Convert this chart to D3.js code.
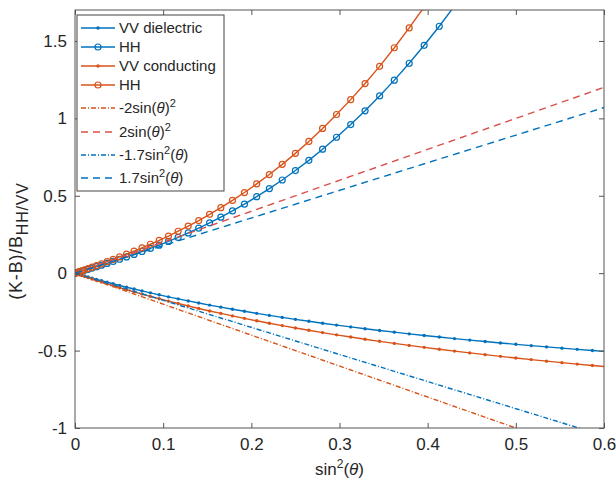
<!DOCTYPE html>
<html><head><meta charset="utf-8">
<script src="https://cdn.jsdelivr.net/npm/d3@7"></script>
<style>body{margin:0;background:#fff}svg{display:block}text{font-family:"Liberation Sans",Arial,sans-serif;fill:#262626}</style>
</head><body><svg id="c" width="616" height="482"></svg>
<script>
// sin^2(theta) at 1-degree steps of theta (0..51 deg)
const xs = [0,0.000305,0.00122,0.00274,0.00487,0.00760,0.01093,0.01485,0.01937,0.02447,0.03015,0.03641,0.04323,0.05060,0.05853,0.06699,0.07598,0.08548,0.09549,0.10599,0.11698,0.12843,0.14033,0.15267,0.16543,0.17861,0.19217,0.20611,0.22040,0.23504,0.25,0.26526,0.28081,0.29663,0.31270,0.32899,0.34549,0.36218,0.37904,0.39604,0.41318,0.43041,0.44774,0.46512,0.48255,0.5,0.51745,0.53488,0.55226,0.56959,0.58682,0.60396];
const vvDielectric = [0,-0.0005,-0.0021,-0.0046,-0.0082,-0.0128,-0.0182,-0.0246,-0.0319,-0.0399,-0.0488,-0.0583,-0.0685,-0.0792,-0.0905,-0.1022,-0.1144,-0.1269,-0.1397,-0.1527,-0.1659,-0.1792,-0.1926,-0.2061,-0.2195,-0.2329,-0.2462,-0.2595,-0.2726,-0.2855,-0.2982,-0.3108,-0.3231,-0.3352,-0.3471,-0.3587,-0.3700,-0.3810,-0.3918,-0.4024,-0.4126,-0.4225,-0.4322,-0.4416,-0.4507,-0.4595,-0.4680,-0.4762,-0.4842,-0.4919,-0.4994,-0.5066];
const hhDielectric = [0,0.0005,0.0021,0.0047,0.0083,0.0129,0.0186,0.0252,0.033,0.042,0.052,0.063,0.076,0.090,0.105,0.121,0.140,0.160,0.181,0.205,0.231,0.260,0.291,0.325,0.362,0.402,0.446,0.494,0.546,0.602,0.663,0.729,0.801,0.878,0.960,1.049,1.145,1.247,1.356,1.472,1.595,1.726,1.865];
const vvConducting = [0,-0.0006,-0.0024,-0.0055,-0.0097,-0.0150,-0.0215,-0.0290,-0.0375,-0.0470,-0.0574,-0.0687,-0.0807,-0.0934,-0.1068,-0.1206,-0.1350,-0.1498,-0.1650,-0.1804,-0.1961,-0.2119,-0.2279,-0.2439,-0.2599,-0.2759,-0.2918,-0.3076,-0.3232,-0.3387,-0.3540,-0.3690,-0.3838,-0.3983,-0.4125,-0.4265,-0.4401,-0.4534,-0.4664,-0.4790,-0.4914,-0.5034,-0.5150,-0.5263,-0.5373,-0.5479,-0.5583,-0.5683,-0.5779,-0.5873,-0.5963,-0.6050];
const hhConducting = [0,0.0006,0.0024,0.0055,0.0097,0.0152,0.0219,0.0297,0.039,0.049,0.061,0.075,0.089,0.105,0.123,0.142,0.164,0.187,0.212,0.240,0.271,0.304,0.340,0.380,0.423,0.470,0.521,0.577,0.637,0.703,0.774,0.851,0.935,1.025,1.121,1.225,1.336,1.456,1.584,1.720,1.864];
// straight reference lines, given by their end points
const refX = [0, 0.6];
const refNeg2 = [0, -1.2];
const refPos2 = [0, 1.2];
const refNeg17 = [0, -1.05];
const refPos17 = [0, 1.07];
const xTicks = [0,0.1,0.2,0.3,0.4,0.5,0.6];
const yTicks = [-1,-0.5,0,0.5,1,1.5];

const blue = "#0072bd", orange = "#d95319", red = "#d9504a";
const svg = d3.select("#c");
const L = 75, R = 604, T = 10, B = 428;
const x = d3.scaleLinear().domain([0,0.6]).range([L,R]);
const y = d3.scaleLinear().domain([-1,1.7]).range([B,T]);

svg.append("clipPath").attr("id","clip").append("rect").attr("x",L).attr("y",T).attr("width",R-L).attr("height",B-T);
const g = svg.append("g").attr("clip-path","url(#clip)");

const series = [
  {name:"VV dielectric", vals:vvDielectric, color:blue, marker:"dot"},
  {name:"HH", vals:hhDielectric, color:blue, marker:"circle"},
  {name:"VV conducting", vals:vvConducting, color:orange, marker:"dot"},
  {name:"HH", vals:hhConducting, color:orange, marker:"circle"}
];
const line = d3.line().x(d=>x(d[0])).y(d=>y(d[1]));
series.forEach(s=>{
  const pts = s.vals.map((v,i)=>[xs[i],v]);
  g.append("path").attr("d",line(pts)).attr("fill","none").attr("stroke",s.color).attr("stroke-width",1.4);
  if(s.marker==="dot"){
    g.selectAll(null).data(pts).enter().append("circle").attr("cx",d=>x(d[0])).attr("cy",d=>y(d[1])).attr("r",1.7).attr("fill",s.color);
  } else {
    g.selectAll(null).data(pts).enter().append("circle").attr("cx",d=>x(d[0])).attr("cy",d=>y(d[1])).attr("r",3).attr("fill","none").attr("stroke",s.color).attr("stroke-width",1.2);
  }
});
const refs = [
  {vals:refNeg2, color:orange, dash:"5,2,1,2"},
  {vals:refPos2, color:red, dash:"7,5"},
  {vals:refNeg17, color:blue, dash:"5,2,1,2"},
  {vals:refPos17, color:blue, dash:"7,5"}
];
refs.forEach(r=>{
  g.append("path").attr("d",line(r.vals.map((v,i)=>[refX[i],v]))).attr("fill","none")
   .attr("stroke",r.color).attr("stroke-width",1.4).attr("stroke-dasharray",r.dash);
});

// axes box and ticks
const axc = "#555";
svg.append("rect").attr("x",L).attr("y",T).attr("width",R-L).attr("height",B-T).attr("fill","none").attr("stroke",axc).attr("stroke-width",1);
const fmt = d => String(d);
const xa = d3.axisBottom(x).tickValues(xTicks).tickSize(-5).tickPadding(10).tickFormat(fmt);
const xg = svg.append("g").attr("transform",`translate(0,${B})`).call(xa);
const xt = svg.append("g").attr("transform",`translate(0,${T})`).call(d3.axisTop(x).tickValues(xTicks).tickSize(-5).tickFormat(""));
const ya = d3.axisLeft(y).tickValues(yTicks).tickSize(-5).tickPadding(8).tickFormat(fmt);
const yg = svg.append("g").attr("transform",`translate(${L},0)`).call(ya);
const yr = svg.append("g").attr("transform",`translate(${R},0)`).call(d3.axisRight(y).tickValues(yTicks).tickSize(-5).tickFormat(""));
[xg,xt,yg,yr].forEach(a=>{a.select(".domain").remove();a.selectAll("line").attr("stroke",axc);a.selectAll("text").style("font-size","17px").attr("fill","#262626").style("font-family","Liberation Sans, Arial, sans-serif");});

// axis labels
const xl = svg.append("text").attr("x",(L+R)/2).attr("y",475).attr("text-anchor","middle").style("font-size","17px");
xl.append("tspan").text("sin");
xl.append("tspan").attr("dy",-7).style("font-size","12px").text("2");
xl.append("tspan").attr("dy",7).text("(");
xl.append("tspan").style("font-style","italic").text("θ");
xl.append("tspan").text(")");
const yl = svg.append("text").attr("transform",`translate(22,${(T+B)/2+22}) rotate(-90)`).attr("text-anchor","middle").style("font-size","18px").style("letter-spacing","0.8px");
yl.append("tspan").text("(K-B)/B");
yl.append("tspan").attr("dy",6).style("font-size","16px").text("HH/VV");

// legend
const lg = svg.append("g");
lg.append("rect").attr("x",77).attr("y",15).attr("width",147).attr("height",176).attr("fill","#fff").attr("stroke","#444").attr("stroke-width",1);
const legItems = [
  {y:28, color:blue, marker:"dot", dash:null, label:[["VV dielectric"]]},
  {y:47, color:blue, marker:"circle", dash:null, label:[["HH"]]},
  {y:66, color:orange, marker:"dot", dash:null, label:[["VV conducting"]]},
  {y:85, color:orange, marker:"circle", dash:null, label:[["HH"]]},
  {y:108, color:orange, marker:null, dash:"5,2,1,2", label:[["-2sin("],["θ","i"],[")"],["2","s"]]},
  {y:132, color:red, marker:null, dash:"7,5", label:[["2sin("],["θ","i"],[")"],["2","s"]]},
  {y:155, color:blue, marker:null, dash:"5,2,1,2", label:[["-1.7sin"],["2","s"],["(","u"],["θ","i"],[")"]]},
  {y:178, color:blue, marker:null, dash:"7,5", label:[["1.7sin"],["2","s"],["(","u"],["θ","i"],[")"]]}
];
legItems.forEach(it=>{
  lg.append("line").attr("x1",81).attr("x2",115).attr("y1",it.y).attr("y2",it.y).attr("stroke",it.color).attr("stroke-width",1.4).attr("stroke-dasharray",it.dash);
  if(it.marker==="dot") lg.append("circle").attr("cx",98).attr("cy",it.y).attr("r",1.7).attr("fill",it.color);
  if(it.marker==="circle") lg.append("circle").attr("cx",98).attr("cy",it.y).attr("r",3).attr("fill","none").attr("stroke",it.color).attr("stroke-width",1.2);
  const t = lg.append("text").attr("x",119).attr("y",it.y+5).style("font-size","15px");
  it.label.forEach(p=>{
    const ts = t.append("tspan").text(p[0]);
    if(p[1]==="i") ts.style("font-style","italic");
    if(p[1]==="s") ts.attr("dy",-6).style("font-size","11px");
    if(p[1]==="u") ts.attr("dy",6);
  });
});
</script></body></html>
